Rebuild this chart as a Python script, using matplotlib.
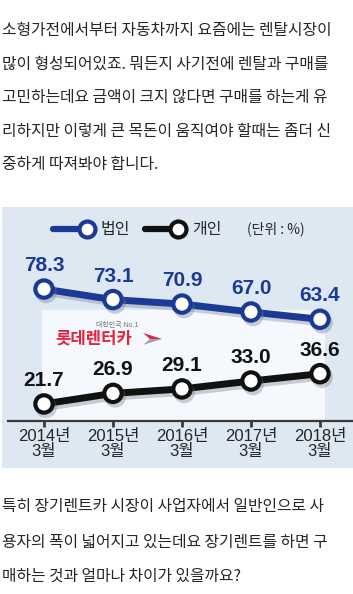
import matplotlib
matplotlib.use('Agg')
import matplotlib.pyplot as plt
from matplotlib import font_manager as fm
from matplotlib.patches import Rectangle, Polygon
from matplotlib.lines import Line2D
import matplotlib.patheffects as pe

# ---------------- data ----------------
periods = ['2014년\n3월', '2015년\n3월', '2016년\n3월', '2017년\n3월', '2018년\n3월']
corporate = [78.3, 73.1, 70.9, 67.0, 63.4]
individual = [21.7, 26.9, 29.1, 33.0, 36.6]
series_names = ['법인', '개인']
unit_label = '(단위 : %)'
ad_small = '대한민국 No.1'
ad_brand = '롯데렌터카'
top_text = [
    '소형가전에서부터 자동차까지 요즘에는 렌탈시장이',
    '많이 형성되어있죠. 뭐든지 사기전에 렌탈과 구매를',
    '고민하는데요 금액이 크지 않다면 구매를 하는게 유',
    '리하지만 이렇게 큰 목돈이 움직여야 할때는 좀더 신',
    '중하게 따져봐야 합니다.',
]
bottom_text = [
    '특히 장기렌트카 시장이 사업자에서 일반인으로 사',
    '용자의 폭이 넓어지고 있는데요 장기렌트를 하면 구',
    '매하는 것과 얼마나 차이가 있을까요?',
]

# ---------------- style ----------------
W, H = 353, 594
names = {f.name for f in fm.fontManager.ttflist}
NARROW = 'Liberation Sans Narrow' if 'Liberation Sans Narrow' in names else 'Liberation Sans'
KR = 'Noto Sans CJK KR'
plt.rcParams['font.family'] = [NARROW, KR]

BLUE = '#1b3a96'
BLACK = '#111111'
PANEL = '#dde8f3'
TXT = '#262626'

fig = plt.figure(figsize=(W / 100, H / 100), dpi=100)
fig.patch.set_facecolor('white')


def fx(x):
    return x / W


def fy(y):
    return 1 - y / H


# chart panel
L, T, R, B = 2, 207, 353, 468
ax = fig.add_axes([fx(L), fy(B), (R - L) / W, (B - T) / H])
ax.set_facecolor(PANEL)
xs = list(range(len(periods)))
px_per_x = 69.0
xmin = -(44 - L) / px_per_x
ax.set_xlim(xmin, xmin + (R - L) / px_per_x)
ppu, y0 = 2.03, 448.0
ax.set_ylim((y0 - B) / ppu, (y0 - T) / ppu)
baseline = (y0 - 421) / ppu

# light ad area
ax.add_patch(Rectangle((fx(42), fy(421)), (325 - 42) / W, (421 - 310) / H,
                       transform=fig.transFigure, facecolor='#f5f8fc',
                       edgecolor='none', zorder=0.5))

shadow = [pe.SimpleLineShadow(offset=(1.5, -2.5), shadow_color='#6f7a88', alpha=0.35),
          pe.Normal()]
for vals, col in [(corporate, BLUE), (individual, BLACK)]:
    ax.plot(xs, vals, color=col, lw=5, marker='o', ms=12.5, mfc='white', mec=col,
            mew=3, solid_capstyle='round', path_effects=shadow, zorder=3)
    for xi, v in zip(xs, vals):
        ax.annotate(f'{v:.1f}', (xi, v), xytext=(0, 13), textcoords='offset points',
                    ha='center', va='baseline', color=col, fontsize=15,
                    fontweight='bold', zorder=4)

for s in ['top', 'right', 'left']:
    ax.spines[s].set_visible(False)
sp = ax.spines['bottom']
sp.set_position(('data', baseline))
sp.set_bounds(xmin + 6 / px_per_x, ax.get_xlim()[1])
sp.set_color('#3a3a3a')
sp.set_linewidth(1.6)
ax.set_xticks(xs)
ax.set_xticklabels(periods, fontsize=12, color=TXT, linespacing=0.95)
ax.tick_params(axis='x', length=4, width=2, color='#3a3a3a', pad=2)
ax.set_yticks([])

# legend
ly = fy(229)
for (x0, x1, tx), col, nm in zip([(53, 87, 101), (145, 178, 192)], [BLUE, BLACK], series_names):
    fig.add_artist(Line2D([fx(x0), fx(x1)], [ly, ly], transform=fig.transFigure,
                          lw=4.5, color=col, marker='o', markevery=[1], ms=11.5,
                          mfc='white', mec=col, mew=3, solid_capstyle='round'))
    fig.text(fx(tx), ly, nm, fontsize=11.5, va='center', ha='left', color=TXT,
             family=[KR], fontweight='medium')
fig.text(fx(247), ly, unit_label, fontsize=10, va='center', ha='left', color=TXT,
         family=[KR], fontweight='medium')

# ad logo
fig.text(fx(117), fy(325), ad_small, fontsize=5, color='#777777', ha='center',
         va='center', family=[NARROW, KR])
fig.text(fx(55), fy(339), ad_brand, fontsize=12, color='#e5213b', ha='left',
         va='center', fontweight='bold', family=[KR])
fig.add_artist(Polygon([(fx(143), fy(333)), (fx(162), fy(339)), (fx(150), fy(339))],
                       closed=True, transform=fig.transFigure, facecolor='#e5213b',
                       edgecolor='none'))
fig.add_artist(Polygon([(fx(150), fy(339)), (fx(162), fy(339)), (fx(143), fy(345))],
                       closed=True, transform=fig.transFigure, facecolor='#9aa6b8',
                       edgecolor='none'))

# paragraphs
for yc, line in zip([30.5, 64, 97.5, 131, 164.5], top_text):
    fig.text(fx(2), fy(yc), line, fontsize=11.4, color=TXT, ha='left', va='center',
             family=[KR])
for yc, line in zip([506.5, 542, 576], bottom_text):
    fig.text(fx(2), fy(yc), line, fontsize=11.4, color=TXT, ha='left', va='center',
             family=[KR])

fig.savefig('out.png', dpi=100, facecolor='white')
